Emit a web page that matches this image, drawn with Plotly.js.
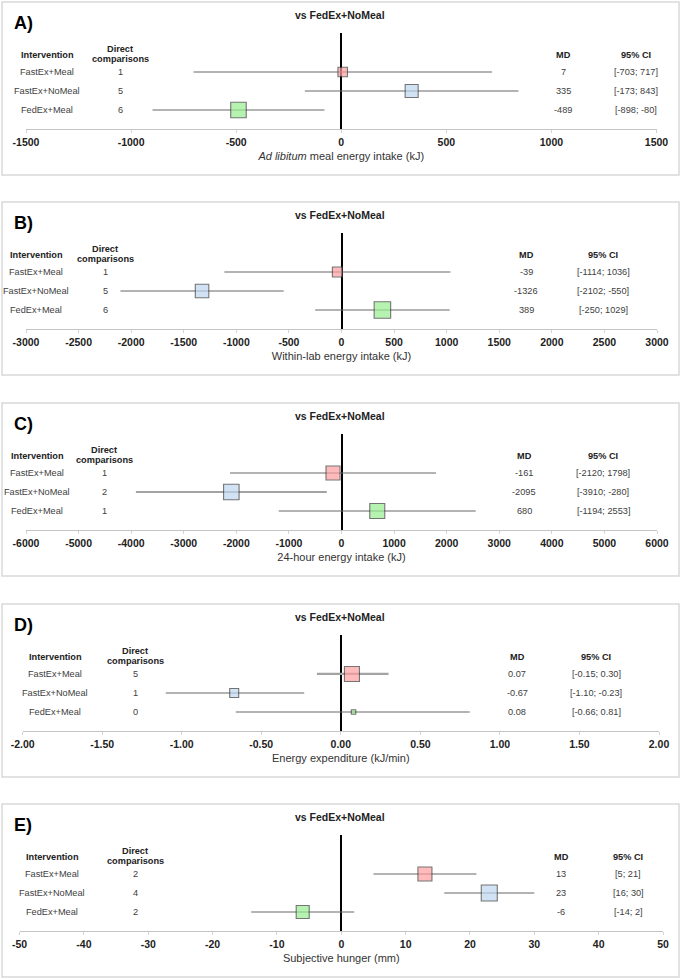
<!DOCTYPE html>
<html>
<head>
<meta charset="utf-8">
<script src="https://cdn.plot.ly/plotly-3.0.1.min.js"></script>
<style>
  html, body { margin: 0; padding: 0; background: #fff; }
  #chart { width: 681px; height: 978px; }
</style>
</head>
<body>
<div id="chart"></div>
<script>
// rows, top to bottom
const interventions = ['FastEx+Meal', 'FastEx+NoMeal', 'FedEx+Meal'];
const comparator = 'vs FedEx+NoMeal';
const panelLetters = ['A)', 'B)', 'C)', 'D)', 'E)'];
const outcomes = [
    '<i>Ad libitum</i> meal energy intake (kJ)',
    'Within-lab energy intake (kJ)',
    '24-hour energy intake (kJ)',
    'Energy expenditure (kJ/min)',
    'Subjective hunger (mm)'
];

// A) ad libitum meal
const directA = [1, 5, 6];
const mdA = [7, 335, -489];
const loA = [-703, -173, -898];
const hiA = [717, 843, -80];
const ticksA = [-1500, -1000, -500, 0, 500, 1000, 1500];

// B) within-lab
const directB = [1, 5, 6];
const mdB = [-39, -1326, 389];
const loB = [-1114, -2102, -250];
const hiB = [1036, -550, 1029];
const ticksB = [-3000, -2500, -2000, -1500, -1000, -500, 0, 500, 1000, 1500, 2000, 2500, 3000];

// C) 24-hour
const directC = [1, 2, 1];
const mdC = [-161, -2095, 680];
const loC = [-2120, -3910, -1194];
const hiC = [1798, -280, 2553];
const ticksC = [-6000, -5000, -4000, -3000, -2000, -1000, 0, 1000, 2000, 3000, 4000, 5000, 6000];

// D) energy expenditure
const directD = [5, 1, 0];
const mdD = [0.07, -0.67, 0.08];
const loD = [-0.15, -1.10, -0.66];
const hiD = [0.30, -0.23, 0.81];
const ticksD = [-2, -1.5, -1, -0.5, 0, 0.5, 1, 1.5, 2];

// E) hunger
const directE = [2, 4, 2];
const mdE = [13, 23, -6];
const loE = [5, 16, -14];
const hiE = [21, 30, 2];
const ticksE = [-50, -40, -30, -20, -10, 0, 10, 20, 30, 40, 50];

// ---- styling / placement ----
const W = 681, H = 978;
const SANS = '"Liberation Sans", Arial, sans-serif';
const boxColors = ['#ff9f9f', '#bdd7ee', '#98ee90'];

// cols: intervention, direct comparisons, MD, 95% CI (pixel centres)
const panels = [
    { direct: directA, md: mdA, lo: loA, hi: hiA, ticks: ticksA, dec: 0, top: 2,   xl: 26, xr: 656.5,
      sizes: [9.5, 13, 15.5], cols: [47, 120, 563, 636], wide: [] },
    { direct: directB, md: mdB, lo: loB, hi: hiB, ticks: ticksB, dec: 0, top: 202, xl: 26, xr: 657,
      sizes: [10, 13.5, 16.5], cols: [36, 105, 526, 603], wide: [] },
    { direct: directC, md: mdC, lo: loC, hi: hiC, ticks: ticksC, dec: 0, top: 403, xl: 26, xr: 657,
      sizes: [14, 15.5, 15], cols: [37, 104, 524, 603], wide: [1] },
    { direct: directD, md: mdD, lo: loD, hi: hiD, ticks: ticksD, dec: 2, top: 604, xl: 22.6, xr: 659,
      sizes: [15, 9, 4.5], cols: [55, 135, 517, 596], wide: [0] },
    { direct: directE, md: mdE, lo: loE, hi: hiE, ticks: ticksE, dec: 0, top: 804, xl: 19.6, xr: 663,
      sizes: [14, 16, 13], cols: [52, 135, 561, 628], wide: [] }
];

const px = p => p / W;
const py = p => 1 - p / H;
const rowY = [3, 2, 1];

const traces = [];
const annotations = [];
const shapes = [];
const layout = {
    width: W, height: H,
    margin: { l: 0, r: 0, t: 0, b: 0 },
    paper_bgcolor: '#fff',
    plot_bgcolor: 'rgba(0,0,0,0)',
    showlegend: false,
    font: { family: SANS, color: '#333' }
};

panels.forEach((p, k) => {
    const n = k === 0 ? '' : String(k + 1);
    const xa = 'x' + n, ya = 'y' + n;
    const fmt = v => v.toFixed(p.dec);

    // confidence intervals
    interventions.forEach((name, i) => {
        const wide = p.wide.includes(i);
        traces.push({
            type: 'scatter', mode: 'lines',
            x: [p.lo[i], p.hi[i]], y: [rowY[i], rowY[i]],
            xaxis: xa, yaxis: ya,
            line: { color: wide ? '#a3a3a3' : '#686868', width: wide ? 2.2 : 1.1 },
            hoverinfo: 'skip'
        });
    });

    // point estimates
    traces.push({
        type: 'scatter', mode: 'markers',
        x: p.md, y: rowY,
        xaxis: xa, yaxis: ya,
        text: interventions,
        marker: { symbol: 'square', size: p.sizes, color: boxColors, line: { color: '#3a3a3a', width: 1.1 } }
    });

    layout['xaxis' + n] = {
        domain: [px(p.xl), px(p.xr)],
        anchor: ya,
        range: [p.ticks[0], p.ticks[p.ticks.length - 1]],
        tickmode: 'array',
        tickvals: p.ticks,
        ticktext: p.ticks.map(fmt),
        ticks: 'outside', ticklen: 3, tickcolor: '#d4d4d4',
        showline: true, linecolor: '#c4c4c4', linewidth: 1,
        showgrid: false,
        zeroline: true, zerolinecolor: '#000', zerolinewidth: 2,
        tickfont: { family: SANS, size: 10.5, color: '#222', weight: 'bold' },
        title: { text: outcomes[k], font: { family: SANS, size: 11, color: '#333' }, standoff: 5 },
        fixedrange: true
    };
    layout['yaxis' + n] = {
        domain: [py(p.top + 127), py(p.top + 31)],
        anchor: xa,
        range: [0, 5.05],
        visible: false,
        fixedrange: true
    };

    // panel frame
    shapes.push({
        type: 'rect', xref: 'paper', yref: 'paper', layer: 'below',
        x0: px(2), x1: px(679), y0: py(p.top), y1: py(p.top + 173),
        line: { color: '#d9d9d9', width: 1.5 }
    });

    const head = { family: SANS, size: 9.2, color: '#222', weight: 'bold' };
    const body = { family: SANS, size: 9.2, color: '#404040' };
    const note = (text, x, y, font, yref, extra) => annotations.push(Object.assign({
        text, x, y, xref: 'paper', yref: yref || 'paper', showarrow: false,
        xanchor: 'center', yanchor: 'middle', font
    }, extra || {}));

    note(panelLetters[k], px(12), py(p.top + 21), { family: SANS, size: 18, color: '#000', weight: 'bold' }, null, { xanchor: 'left' });
    note(comparator, px(340), py(p.top + 13), { family: SANS, size: 10.5, color: '#222', weight: 'bold' });
    note('Intervention', px(p.cols[0]), py(p.top + 53), head);
    note('Direct', px(p.cols[1]), py(p.top + 47), head);
    note('comparisons', px(p.cols[1]), py(p.top + 57), head);
    note('MD', px(p.cols[2]), py(p.top + 53), head);
    note('95% CI', px(p.cols[3]), py(p.top + 53), head);

    interventions.forEach((name, i) => {
        note(name, px(p.cols[0]), rowY[i], body, ya);
        note(String(p.direct[i]), px(p.cols[1]), rowY[i], body, ya);
        note(fmt(p.md[i]), px(p.cols[2]), rowY[i], body, ya);
        note('[' + fmt(p.lo[i]) + '; ' + fmt(p.hi[i]) + ']', px(p.cols[3]), rowY[i], body, ya);
    });
});

layout.annotations = annotations;
layout.shapes = shapes;

Plotly.newPlot('chart', traces, layout, { displayModeBar: false, staticPlot: true });
</script>
</body>
</html>
